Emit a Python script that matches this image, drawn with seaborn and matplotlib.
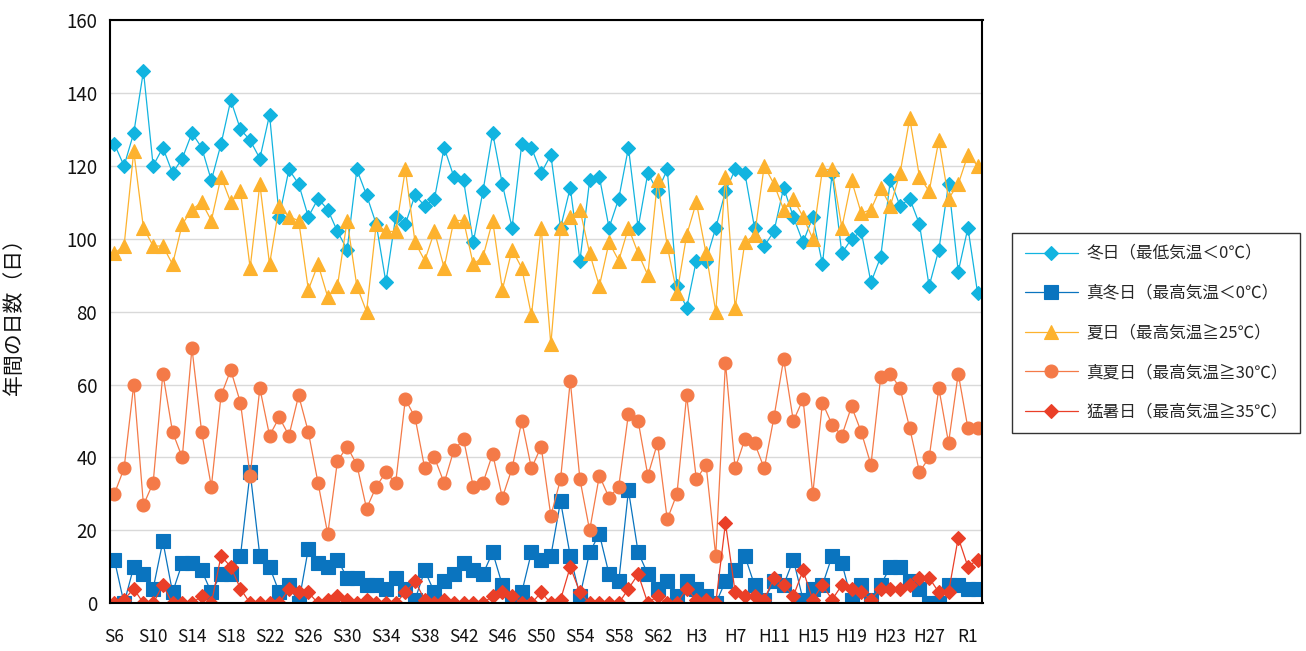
import matplotlib
matplotlib.use("Agg")
import matplotlib.pyplot as plt
import seaborn as sns

# categories: 1931 (S6) .. 2020 (R2), one point per year
years = list(range(1931, 2021))
x_idx = list(range(len(years)))

tick_pos = list(range(0, 90, 4))
tick_labels = ["S6", "S10", "S14", "S18", "S22", "S26", "S30", "S34", "S38", "S42",
               "S46", "S50", "S54", "S58", "S62", "H3", "H7", "H11", "H15", "H19",
               "H23", "H27", "R1"]

# 冬日 (min temp < 0)
fuyubi = [126, 120, 129, 146, 120, 125, 118, 122, 129, 125, 116, 126, 138, 130, 127,
          122, 134, 106, 119, 115, 106, 111, 108, 102, 97, 119, 112, 104, 88, 106,
          104, 112, 109, 111, 125, 117, 116, 99, 113, 129, 115, 103, 126, 125, 118,
          123, 103, 114, 94, 116, 117, 103, 111, 125, 103, 118, 113, 119, 87, 81,
          94, 94, 103, 113, 119, 118, 103, 98, 102, 114, 106, 99, 106, 93, 118,
          96, 100, 102, 88, 95, 116, 109, 111, 104, 87, 97, 115, 91, 103, 85]

# 真冬日 (max temp < 0)
mafuyubi = [12, 0, 10, 8, 4, 17, 3, 11, 11, 9, 3, 8, 8, 13, 36,
            13, 10, 3, 5, 0, 15, 11, 10, 12, 7, 7, 5, 5, 4, 7,
            4, 1, 9, 3, 6, 8, 11, 9, 8, 14, 5, 0, 3, 14, 12,
            13, 28, 13, 2, 14, 19, 8, 6, 31, 14, 8, 4, 6, 2, 6,
            4, 2, 0, 6, 9, 13, 5, 1, 6, 5, 12, 1, 4, 5, 13,
            11, 1, 5, 1, 5, 10, 10, 6, 4, 0, 0, 5, 5, 4, 4]

# 夏日 (max temp >= 25)
natsubi = [96, 98, 124, 103, 98, 98, 93, 104, 108, 110, 105, 117, 110, 113, 92,
           115, 93, 109, 106, 105, 86, 93, 84, 87, 105, 87, 80, 104, 102, 102,
           119, 99, 94, 102, 92, 105, 105, 93, 95, 105, 86, 97, 92, 79, 103,
           71, 103, 106, 108, 96, 87, 99, 94, 103, 96, 90, 116, 98, 85, 101,
           110, 96, 80, 117, 81, 99, 101, 120, 115, 108, 111, 106, 100, 119, 119,
           103, 116, 107, 108, 114, 109, 118, 133, 117, 113, 127, 111, 115, 123, 120]

# 真夏日 (max temp >= 30)
manatsubi = [30, 37, 60, 27, 33, 63, 47, 40, 70, 47, 32, 57, 64, 55, 35,
             59, 46, 51, 46, 57, 47, 33, 19, 39, 43, 38, 26, 32, 36, 33,
             56, 51, 37, 40, 33, 42, 45, 32, 33, 41, 29, 37, 50, 37, 43,
             24, 34, 61, 34, 20, 35, 29, 32, 52, 50, 35, 44, 23, 30, 57,
             34, 38, 13, 66, 37, 45, 44, 37, 51, 67, 50, 56, 30, 55, 49,
             46, 54, 47, 38, 62, 63, 59, 48, 36, 40, 59, 44, 63, 48, 48]

# 猛暑日 (max temp >= 35)
moshobi = [0, 1, 4, 0, 0, 5, 0, 0, 0, 2, 0, 13, 10, 4, 0,
           0, 0, 0, 4, 3, 3, 0, 1, 2, 1, 0, 1, 0, 0, 0,
           3, 6, 1, 0, 1, 0, 0, 0, 0, 2, 3, 2, 0, 0, 3,
           0, 1, 10, 3, 0, 0, 0, 0, 4, 8, 0, 2, 0, 0, 4,
           1, 1, 0, 22, 3, 2, 2, 1, 7, 5, 2, 9, 1, 5, 1,
           5, 4, 3, 1, 4, 4, 4, 5, 7, 7, 3, 3, 18, 10, 12]

series = [
    ("冬日（最低気温＜0℃）", fuyubi, "#12B4E0", "D", 7.5),
    ("真冬日（最高気温＜0℃）", mafuyubi, "#0A74BF", "s", 9.5),
    ("夏日（最高気温≧25℃）", natsubi, "#FDB22E", "^", 10.5),
    ("真夏日（最高気温≧30℃）", manatsubi, "#F47A48", "o", 9.3),
    ("猛暑日（最高気温≧35℃）", moshobi, "#EA3F28", "D", 6.8),
]

sns.set_style("white")
plt.rcParams["font.family"] = ["Noto Sans CJK JP", "DejaVu Sans"]

fig = plt.figure(figsize=(13.06, 6.51), dpi=100)
ax = fig.add_axes([109.5 / 1306, 1 - 603.3 / 651, 873 / 1306, 583.3 / 651])

for name, vals, color, mk, ms in series:
    sns.lineplot(x=x_idx, y=vals, ax=ax, color=color, marker=mk, markersize=ms,
                 markeredgecolor=color, markeredgewidth=0.8, linewidth=0.9, label=name)

ax.set_xlim(-0.5, 89.5)
ax.set_ylim(0, 160)
ax.set_yticks(range(0, 161, 20))
ax.set_xticks(tick_pos)
ax.set_xticklabels(tick_labels)
ax.tick_params(axis="x", length=0, pad=18, labelsize=12.5, labelcolor="#111111")
ax.tick_params(axis="y", length=0, pad=9, labelsize=13.5, labelcolor="#111111")
ax.yaxis.grid(True, color="#D9D9D9", linewidth=1.0)
ax.set_axisbelow(True)
for sp in ax.spines.values():
    sp.set_color("black")
    sp.set_linewidth(1.5)

ax.set_ylabel("年間の日数（日）", fontsize=15, color="#111111")
ax.yaxis.set_label_coords(-(109.5 - 25) / 873, 0.5)

handles, labels = ax.get_legend_handles_labels()
ax.get_legend().remove()
leg = fig.legend(handles, labels, loc="upper left",
                 bbox_to_anchor=(1012 / 1306, 1 - 233 / 651), borderaxespad=0,
                 frameon=True, fancybox=False, edgecolor="black",
                 fontsize=12, handlelength=3.2, labelspacing=1.35,
                 borderpad=0.75, handletextpad=0.5)
leg.get_frame().set_linewidth(1.0)

fig.savefig("out.png", dpi=100)
